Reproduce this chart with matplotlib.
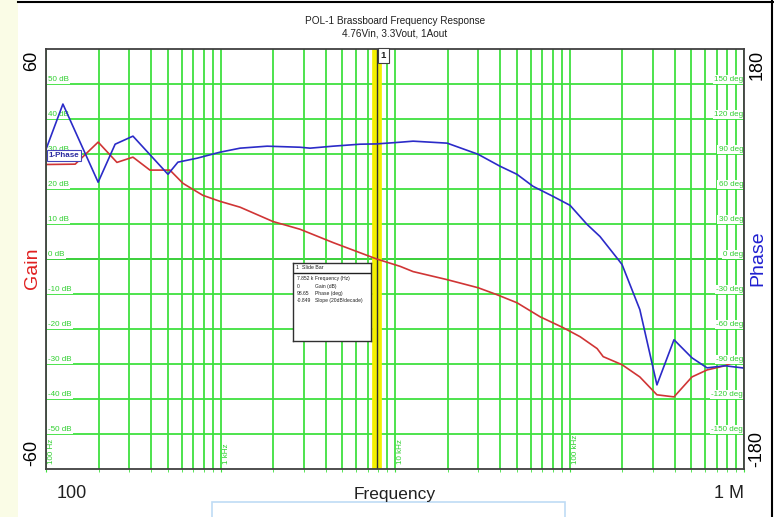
import numpy as np
import matplotlib
matplotlib.use("Agg")
import matplotlib.pyplot as plt
import matplotlib.transforms as mtransforms
from matplotlib.patches import Rectangle
from matplotlib.lines import Line2D

plt.rcParams['font.family'] = ['Liberation Sans', 'DejaVu Sans']

# ---------------- data ----------------
gain_freq = [100, 147, 199, 255, 315, 394, 513, 610, 792, 990, 1295, 2000, 2855,
             4413, 7852, 10700, 12700, 19900, 29900, 38400, 50000, 67800, 91800,
             115000, 144000, 156000, 200000, 253000, 317000, 397000, 503000,
             614000, 778000, 1000000]
gain_db = [27.0, 27.1, 33.4, 27.6, 29.1, 25.4, 25.4, 21.6, 18.2, 16.5, 14.8, 10.7, 8.5,
           4.7, 0.0, -2.1, -3.6, -5.9, -8.2, -10.2, -12.5, -16.5, -19.6,
           -22.2, -25.6, -27.9, -30.2, -33.7, -38.8, -39.4, -33.7,
           -31.7, -30.5, -28.2]

phase_freq = [100, 125, 199, 249, 315, 500, 570, 734, 990, 1295, 1850, 2855, 3260,
              4413, 6300, 7852, 10700, 12700, 19900, 29900, 40000, 50000, 61800,
              80400, 100700, 126000, 149500, 190000, 200000, 253000, 317000,
              397000, 503000, 614000, 778000, 1000000]
phase_deg = [94.0, 132.8, 65.8, 98.4, 105.3, 72.6, 83.0, 86.4, 91.5, 95.0, 96.7, 95.8, 95.0,
             96.7, 98.4, 98.65, 100.1, 101.0, 99.3, 89.8, 79.5, 72.6, 62.3,
             53.7, 46.0, 29.7, 19.3, -0.4, -4.7, -43.4, -107.9,
             -69.2, -84.7, -93.3, -91.5, -93.5]

gain_grid = [-50, -40, -30, -20, -10, 0, 10, 20, 30, 40, 50]
phase_grid = [-150, -120, -90, -60, -30, 0, 30, 60, 90, 120, 150]
decade_freqs = [100, 1000, 10000, 100000]
decade_labels = ["100 Hz", "1 kHz", "10 kHz", "100 kHz"]

slide_freq = 7852
slide_values = ["7.852 k", "0", "98.65", "-0.849"]
slide_names = ["Frequency (Hz)", "Gain (dB)", "Phase (deg)", "Slope (20dB/decade)"]

title_lines = ["POL-1 Brassboard Frequency Response", "4.76Vin, 3.3Vout, 1Aout"]

GREEN = '#3fe03f'
LBL_GREEN = '#2fcf2f'
RED = '#d03535'
BLUE = '#2b2bc8'
FRAME = '#404040'

W, H = 774, 517
fig = plt.figure(figsize=(W / 100, H / 100), dpi=100)
fig.patch.set_facecolor('white')

# left pale strip and window borders
fig.patches.append(Rectangle((0, 0), 18 / W, 1, transform=fig.transFigure,
                             facecolor='#fafce6', edgecolor='none', zorder=0))
fig.lines.append(Line2D([18 / W, 1], [1 - 1.5 / H, 1 - 1.5 / H], transform=fig.transFigure,
                        color='black', lw=1.5))
fig.lines.append(Line2D([772 / W, 772 / W], [0, 1], transform=fig.transFigure,
                        color='black', lw=1.5))
fig.patches.append(Rectangle((212 / W, -0.01), (565 - 212) / W, (517 - 502) / H + 0.01,
                             transform=fig.transFigure, facecolor='white',
                             edgecolor='#bfdcf5', lw=1.2, zorder=1))

L, R, T, B = 46, 744, 49, 469
ax = fig.add_axes([L / W, 1 - B / H, (R - L) / W, (B - T) / H])
ax.set_xscale('log')
ax.set_xlim(100, 1e6)
ax.set_ylim(-60, 60)
ax.set_yticks(gain_grid)
ax.xaxis.set_major_locator(matplotlib.ticker.LogLocator(base=10))
ax.xaxis.set_minor_locator(matplotlib.ticker.LogLocator(base=10, subs=np.arange(2, 10)))
ax.grid(True, which='both', axis='x', color=GREEN, lw=1.3, zorder=0)
ax.grid(True, which='major', axis='y', color=GREEN, lw=1.3, zorder=0)
ax.axhline(0, color=FRAME, lw=1.4, zorder=1)
ax.tick_params(axis='x', which='both', direction='out', length=2.5, color=GREEN,
               labelbottom=False)
ax.tick_params(axis='y', which='both', length=0, labelleft=False, labelright=False)
for s in ax.spines.values():
    s.set_visible(False)

# slide bar
ax.axvline(slide_freq, color='#f4f000', lw=7, zorder=2)
ax.axvline(slide_freq, color='#303030', lw=1.0, zorder=2)

ax.plot(gain_freq, gain_db, color=RED, lw=1.2, zorder=3)

trans_l = mtransforms.blended_transform_factory(ax.transAxes, ax.transData)
for v in gain_grid:
    ax.annotate(f"{v} dB", xy=(0, v), xycoords=trans_l, xytext=(1.5, 0.8),
                textcoords='offset points', ha='left', va='bottom', fontsize=5.8,
                color=LBL_GREEN, zorder=2.5,
                bbox=dict(boxstyle='square,pad=0.15', fc='white', ec='none'))

trans_d = mtransforms.blended_transform_factory(ax.transData, ax.transAxes)
for f, lab in zip(decade_freqs, decade_labels):
    ax.annotate(lab, xy=(f, 0), xycoords=trans_d, xytext=(1.5, 3.5),
                textcoords='offset points', rotation=90, ha='left', va='bottom',
                fontsize=5.8, color=LBL_GREEN, zorder=2.5)

ax2 = ax.twinx()
ax2.set_xscale('log')
ax2.set_xlim(100, 1e6)
ax2.set_ylim(-180, 180)
ax2.tick_params(axis='y', which='both', length=0, labelright=False, labelleft=False)
ax2.tick_params(axis='x', which='both', length=0)
for s in ax2.spines.values():
    s.set_visible(True)
    s.set_color(FRAME)
    s.set_linewidth(1.3)
    s.set_zorder(4)

trans_r = mtransforms.blended_transform_factory(ax2.transAxes, ax2.transData)
for v in phase_grid:
    ax2.annotate(f"{v} deg", xy=(1, v), xycoords=trans_r, xytext=(-0.6, 0.8),
                 textcoords='offset points', ha='right', va='bottom', fontsize=5.8,
                 color=LBL_GREEN, zorder=1,
                 bbox=dict(boxstyle='square,pad=0.15', fc='white', ec='none'))

ax2.plot(phase_freq, phase_deg, color=BLUE, lw=1.2, zorder=3)

# 1-Phase label
ax2.annotate("1-Phase", xy=(0, phase_deg[0]), xycoords=trans_r, xytext=(2, -4.5),
             textcoords='offset points', ha='left', va='center', fontsize=5.8,
             color='#2a2aa0', fontweight='bold', zorder=5,
             bbox=dict(boxstyle='square,pad=0.25', fc='white', ec='#4444bb', lw=0.8))

# slide bar marker "1"
ax2.annotate("1", xy=(slide_freq, 1), xycoords=trans_d, xytext=(3.0, -1.5),
             textcoords='offset points', ha='left', va='top', fontsize=6.8,
             fontweight='bold', color='#202020', zorder=6,
             bbox=dict(boxstyle='square,pad=0.3', fc='white', ec=FRAME, lw=0.8))

# slide bar info box
bx0, by0, bx1, by1 = 293, 263, 371, 341
box_ax = fig.add_axes([bx0 / W, 1 - by1 / H, (bx1 - bx0) / W, (by1 - by0) / H])
box_ax.set_xlim(0, bx1 - bx0)
box_ax.set_ylim(by1 - by0, 0)
box_ax.set_xticks([])
box_ax.set_yticks([])
box_ax.set_facecolor('white')
for s in box_ax.spines.values():
    s.set_color('#303030')
    s.set_linewidth(1.0)
box_ax.text(3, 4.5, "1  Slide Bar", fontsize=3.8, va='center', ha='left', color='#202020')
box_ax.axhline(10, color='#202020', lw=1.0)
for i, (val, name) in enumerate(zip(slide_values, slide_names)):
    yy = 16 + i * 7.3
    box_ax.text(4, yy, val, fontsize=3.6, va='center', ha='left', color='#202020')
    box_ax.text(22, yy, name, fontsize=3.6, va='center', ha='left', color='#202020')

# titles
fig.text(395 / W, 1 - 21 / H, title_lines[0], ha='center', va='center', fontsize=7.2,
         color='#202020')
fig.text(395 / W, 1 - 33 / H, title_lines[1], ha='center', va='center', fontsize=7.2,
         color='#202020')

# axis labels
fig.text(32 / W, 1 - 61 / H, "60", rotation=90, ha='center', va='center', fontsize=13)
fig.text(32 / W, 1 - 453 / H, "-60", rotation=90, ha='center', va='center', fontsize=13)
fig.text(32 / W, 1 - 268 / H, "Gain", rotation=90, ha='center', va='center', fontsize=14,
         color='#e02020')
fig.text(757 / W, 1 - 65 / H, "180", rotation=90, ha='center', va='center', fontsize=13)
fig.text(757 / W, 1 - 449 / H, "-180", rotation=90, ha='center', va='center', fontsize=13)
fig.text(758 / W, 1 - 258 / H, "Phase", rotation=90, ha='center', va='center', fontsize=14,
         color='#2020d0')
fig.text(72 / W, 1 - 494 / H, "100", ha='center', va='center', fontsize=13, color='#202020')
fig.text(744 / W, 1 - 494 / H, "1 M", ha='right', va='center', fontsize=13, color='#202020')
fig.text(395 / W, 1 - 494 / H, "Frequency", ha='center', va='center', fontsize=12.5,
         color='#202020', zorder=3)

fig.savefig("out.png", dpi=100, facecolor=fig.get_facecolor())
